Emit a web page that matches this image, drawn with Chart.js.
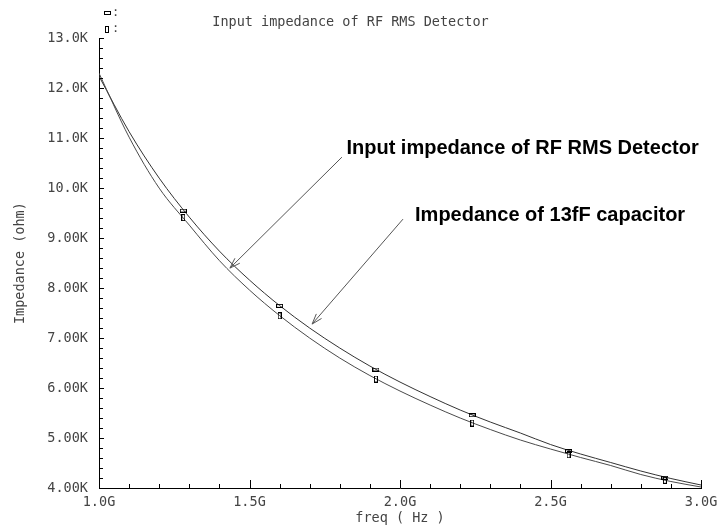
<!DOCTYPE html>
<html><head><meta charset="utf-8">
<script src="https://cdn.jsdelivr.net/npm/chart.js@4.4.1/dist/chart.umd.min.js"></script>
<style>html,body{margin:0;padding:0;background:#fff}#wrap{width:724px;height:529px}</style>
</head><body><div id="wrap"><canvas id="c" width="724" height="529"></canvas></div>
<script>
// ---- data ----
const freqGHz      = [1.0, 1.1, 1.2, 1.3, 1.4, 1.5, 1.6, 1.7, 1.8, 1.9, 2.0, 2.1, 2.2, 2.3, 2.4, 2.5, 2.6, 2.7, 2.8, 2.9, 3.0];
const capacitorOhm = [12240, 11130, 10200, 9420, 8740, 8160, 7650, 7200, 6800, 6440, 6120, 5830, 5560, 5320, 5100, 4870, 4680, 4510, 4340, 4190, 4060];
const detectorOhm  = [12300, 11020, 10000, 9260, 8550, 7960, 7450, 7000, 6600, 6250, 5940, 5660, 5400, 5170, 4960, 4780, 4610, 4450, 4270, 4130, 4020];
const markerFreqGHz      = [1.28, 1.6, 1.92, 2.24, 2.56, 2.88];
const capacitorMarkerOhm = [9550, 7645, 6370, 5455, 4740, 4205];
const detectorMarkerOhm  = [9410, 7445, 6180, 5300, 4665, 4155];
const yTickValues = [4000, 5000, 6000, 7000, 8000, 9000, 10000, 11000, 12000, 13000];
const yTickLabels = ['4.00K','5.00K','6.00K','7.00K','8.00K','9.00K','10.0K','11.0K','12.0K','13.0K'];
const xTickValues = [1.0, 1.5, 2.0, 2.5, 3.0];
const xTickLabels = ['1.0G','1.5G','2.0G','2.5G','3.0G'];
const chartTitle = 'Input impedance of RF RMS Detector';
const annotationTexts = ['Input impedance of RF RMS Detector', 'Impedance of 13fF capacitor'];

// annotation anchors in data coordinates (freq GHz, ohm)
const annotations = [
  {text: annotationTexts[0], tx: 1.822, ty: 10800, tailX: 1.807, tailY: 10620, tipX: 1.435, tipY: 8400},
  {text: annotationTexts[1], tx: 2.050, ty: 9460,  tailX: 2.010, tailY: 9380,  tipX: 1.708, tipY: 7280}
];

const MONO = "'DejaVu Sans Mono', monospace";
const TXT = '#444';

function makeMarker(w, h) {
  const c = document.createElement('canvas');
  c.width = w; c.height = h;
  const g = c.getContext('2d');
  g.strokeStyle = '#000'; g.lineWidth = 1;
  g.strokeRect(0.5, 0.5, w - 1, h - 1);
  return c;
}
const capMarker = makeMarker(7, 4);
const detMarker = makeMarker(4, 7);

const decorPlugin = {
  id: 'decor',
  afterDraw(chart) {
    const ctx = chart.ctx;
    const xs = chart.scales.x, ys = chart.scales.y;
    const area = chart.chartArea;
    ctx.save();
    // inner tick marks
    ctx.strokeStyle = '#000'; ctx.lineWidth = 1;
    ctx.beginPath();
    for (let v = 4000; v <= 13000; v += 200) {
      const y = Math.round(ys.getPixelForValue(v)) + 0.5;
      const major = v % 1000 === 0;
      ctx.moveTo(area.left, y); ctx.lineTo(area.left + (major ? 5 : 4), y);
    }
    for (let i = 0; i <= 20; i++) {
      const v = 1.0 + i * 0.1;
      const x = Math.round(xs.getPixelForValue(v)) + 0.5;
      const major = i % 5 === 0;
      ctx.moveTo(x, area.bottom); ctx.lineTo(x, area.bottom - (major ? 8 : 4));
    }
    ctx.stroke();

    // legend keys top-left
    ctx.drawImage(capMarker, area.left + 5, 11);
    ctx.drawImage(detMarker, area.left + 6, 26);
    ctx.fillStyle = TXT; ctx.font = '12px ' + MONO;
    ctx.textBaseline = 'middle'; ctx.textAlign = 'left';
    ctx.fillText(':', area.left + 13, 13);
    ctx.fillText(':', area.left + 13, 29);

    // annotations
    ctx.font = "bold 20px 'Liberation Sans', Arial, sans-serif";
    ctx.fillStyle = '#000';
    ctx.textBaseline = 'middle';
    for (const a of annotations) {
      ctx.fillText(a.text, xs.getPixelForValue(a.tx), ys.getPixelForValue(a.ty));
      const x0 = xs.getPixelForValue(a.tailX), y0 = ys.getPixelForValue(a.tailY);
      const x1 = xs.getPixelForValue(a.tipX), y1 = ys.getPixelForValue(a.tipY);
      ctx.strokeStyle = '#555'; ctx.lineWidth = 1;
      ctx.beginPath(); ctx.moveTo(x0, y0); ctx.lineTo(x1, y1); ctx.stroke();
      const ang = Math.atan2(y0 - y1, x0 - x1);
      const L = 11, spread = 0.32;
      ctx.beginPath();
      ctx.moveTo(x1 + L * Math.cos(ang + spread), y1 + L * Math.sin(ang + spread));
      ctx.lineTo(x1, y1);
      ctx.lineTo(x1 + L * Math.cos(ang - spread), y1 + L * Math.sin(ang - spread));
      ctx.stroke();
    }
    ctx.restore();
  }
};

const toXY = (xsArr, ysArr) => xsArr.map((x, i) => ({x: x, y: ysArr[i]}));

new Chart(document.getElementById('c'), {
  type: 'line',
  data: {
    datasets: [
      {label: 'Impedance of 13fF capacitor', data: toXY(freqGHz, capacitorOhm),
       borderColor: '#333', borderWidth: 1, pointRadius: 0, cubicInterpolationMode: 'monotone', fill: false, order: 3},
      {label: 'Input impedance of RF RMS Detector', data: toXY(freqGHz, detectorOhm),
       borderColor: '#4a4a4a', borderWidth: 1, pointRadius: 0, cubicInterpolationMode: 'monotone', fill: false, order: 2},
      {label: 'cap markers', data: toXY(markerFreqGHz, capacitorMarkerOhm), showLine: false,
       pointStyle: capMarker, pointRadius: 4, order: 1},
      {label: 'det markers', data: toXY(markerFreqGHz, detectorMarkerOhm), showLine: false,
       pointStyle: detMarker, pointRadius: 4, order: 1}
    ]
  },
  options: {
    responsive: false, animation: false, devicePixelRatio: 1,
    layout: {padding: {left: 0, right: 23, top: 0, bottom: 0}},
    plugins: {
      legend: {display: false}, tooltip: {enabled: false},
      title: {display: true, text: chartTitle, color: TXT,
              font: {family: MONO, size: 13.5, weight: 'normal', lineHeight: 1.2},
              padding: {top: 14, bottom: 8}}
    },
    scales: {
      x: {
        type: 'linear', min: 1.0, max: 3.0,
        afterBuildTicks: s => { s.ticks = xTickValues.map(v => ({value: v})); },
        afterFit: s => { s.height = 41; },
        ticks: {color: TXT, font: {family: MONO, size: 13.5}, padding: 6, maxRotation: 0,
                callback: v => { const i = xTickValues.findIndex(t => Math.abs(t - v) < 1e-9); return i >= 0 ? xTickLabels[i] : ''; }},
        grid: {display: false, drawTicks: false},
        border: {display: true, color: '#000', width: 1},
        title: {display: true, text: 'freq ( Hz )', color: TXT, font: {family: MONO, size: 13.5}, padding: {top: 0, bottom: 2}}
      },
      y: {
        type: 'linear', min: 4000, max: 13000,
        afterBuildTicks: s => { s.ticks = yTickValues.map(v => ({value: v})); },
        afterFit: s => { s.width = 99; },
        ticks: {color: TXT, font: {family: MONO, size: 13.5}, padding: 11,
                callback: v => { const i = yTickValues.indexOf(v); return i >= 0 ? yTickLabels[i] : ''; }},
        grid: {display: false, drawTicks: false},
        border: {display: true, color: '#000', width: 1},
        title: {display: true, text: 'Impedance (ohm)', color: TXT, font: {family: MONO, size: 13.5}, padding: {top: 12, bottom: 0}}
      }
    }
  },
  plugins: [decorPlugin]
});
</script></body></html>
